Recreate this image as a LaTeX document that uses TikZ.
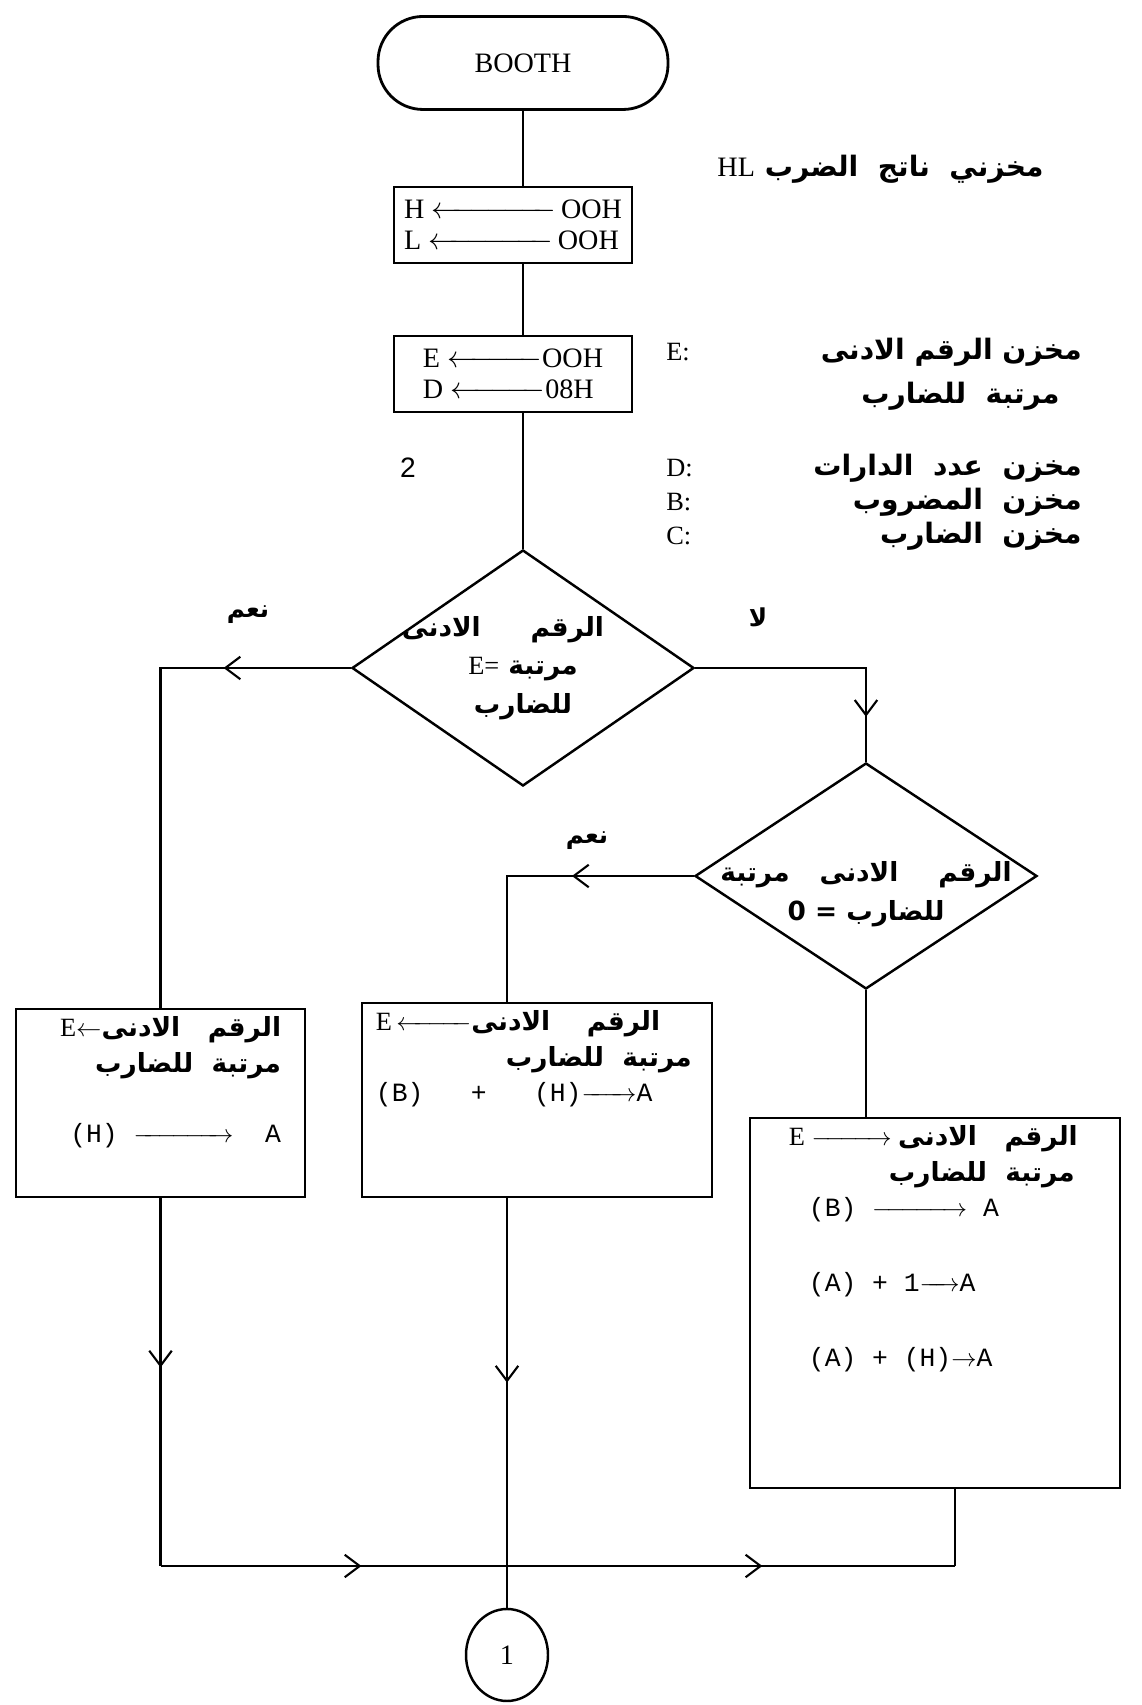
\documentclass[tikz,border=0pt]{standalone}
\usepackage{fontspec}
\setmainfont{Liberation Serif}
\setsansfont{Liberation Sans}
\setmonofont{Liberation Mono}
\newfontfamily\arabicfont[Script=Arabic]{DejaVu Sans}
\TeXXeTstate=1
\usepackage{tikz}
\usetikzlibrary{shapes,arrows.meta,positioning,calc,decorations.markings}

\begin{document}
\begin{tikzpicture}[
    flow/.style={line width=1.2pt},
    terminal/.style={rectangle, draw, line width=1.6pt, rounded corners=0.9cm, minimum width=5.8cm, minimum height=1.86cm, font=\fontsize{16}{19}\selectfont},
    initbox/.style={rectangle, draw, line width=1.6pt, minimum width=4.76cm, minimum height=1.52cm, align=left, inner sep=2pt, font=\fontsize{16}{18}\selectfont},
    decision/.style={diamond, draw, line width=1.4pt, inner sep=0pt},
    dtext/.style={align=center, inner sep=0pt, font=\arabicfont\bfseries\fontsize{15}{22}\selectfont},
    procbox/.style={rectangle, draw, line width=1.6pt},
    boxtext/.style={inner sep=0pt, font=\fontsize{15}{20}\selectfont},
    note/.style={anchor=east, inner sep=0pt, font=\arabicfont\bfseries\fontsize{16}{18}\selectfont},
    reg/.style={anchor=west, inner sep=0pt, font=\fontsize{15}{18}\selectfont},
    answer/.style={inner sep=0pt, font=\arabicfont\bfseries\fontsize{14}{16}\selectfont},
    connector/.style={ellipse, draw, line width=1.4pt, minimum width=1.64cm, minimum height=1.84cm, font=\fontsize{16}{19}\selectfont},
    midarrow/.style={postaction={decorate}, decoration={markings, mark=at position #1 with {\arrow{Straight Barb[length=3mm,width=4.5mm,line width=1.2pt]}}}}
]

\useasboundingbox (0,0) rectangle (22.82,34.1);

% Start and initialisation
\node[terminal] (start) at (10.46,32.84) {BOOTH};
\node[initbox] (init1) at (10.26,29.6) {H \hbox to 2.5cm{\leftarrowfill}\,OOH\\L \hbox to 2.5cm{\leftarrowfill}\,OOH};
\node[initbox] (init2) at (10.26,26.62) {E \hbox to 1.9cm{\leftarrowfill}OOH\\D \hbox to 1.9cm{\leftarrowfill}08H};

% Register notes - right side
\node[note] (hlNote) at (20.88,30.72) {\beginR مخزني\ \ ناتج\ \ الضرب \beginL{\mdseries\rmfamily HL}\endL\endR};
\node[reg] (eReg) at (13.32,27.06) {E:};
\node[note] (eNote1) at (21.64,27.06) {\beginR مخزن\ الرقم\ الادنى\endR};
\node[note] (eNote2) at (21.2,26.18) {\beginR مرتبة\ \ للضارب\endR};
\node[font=\sffamily\fontsize{16}{19}\selectfont] (loopNo) at (8.16,24.74) {2};
\node[reg] (dReg) at (13.32,24.74) {D:};
\node[reg] (bReg) at (13.32,24.06) {B:};
\node[reg] (cReg) at (13.32,23.38) {C:};
\node[note] (dNote) at (21.64,24.74) {\beginR مخزن\ \ عدد\ \ الدارات\endR};
\node[note] (bNote) at (21.64,24.06) {\beginR مخزن\ \ المضروب\endR};
\node[note] (cNote) at (21.64,23.38) {\beginR مخزن\ \ الضارب\endR};

% Decisions
\node[decision, minimum width=6.84cm, minimum height=4.72cm] (test1) at (10.46,20.74) {};
\node[dtext] (test1text) at (test1.center) {\beginR\hspace*{0.8cm}الرقم\hspace{1cm}الادنى\endR\\\beginR مرتبة \beginL{\mdseries\rmfamily E=}\endL\endR\\\beginR للضارب\endR};
\node[decision, minimum width=6.84cm, minimum height=4.52cm] (test2) at (17.32,16.58) {};
\node[dtext] (test2text) at ([yshift=-0.36cm]test2.center) {\beginR الرقم\hspace{0.8cm}الادنى\hspace{0.6cm}مرتبة\endR\\\beginR للضارب \beginL 0 =\endL\endR};
\node[answer] (yes1) at (4.96,21.8) {\beginR نعم\endR};
\node[answer] (no1) at (15.16,21.76) {\beginR لا\endR};
\node[answer] (yes2) at (11.74,17.28) {\beginR نعم\endR};

% Process boxes
\node[procbox, minimum width=5.78cm, minimum height=3.76cm] (boxL) at (3.21,12.04) {};
\node[procbox, minimum width=7.0cm, minimum height=3.88cm] (boxM) at (10.74,12.1) {};
\node[procbox, minimum width=7.4cm, minimum height=7.4cm] (boxR) at (18.7,8.04) {};

\node[boxtext, align=right, below left=0.18cm and 0.5cm of boxL.north east] (boxLtext) {E$\leftarrow${\arabicfont\bfseries\beginR الرقم\ \ \ الادنى\endR}\\{\arabicfont\bfseries\beginR مرتبة\ \ للضارب\endR}\\[0.7cm]{\ttfamily(H) \hbox to 2cm{\rightarrowfill}\ \ A}};
\node[boxtext, align=left, below right=0.18cm and 0.3cm of boxM.north west] (boxMtext) {E\,\hbox to 1.5cm{\leftarrowfill}{\arabicfont\bfseries\beginR الرقم\ \ \ \ الادنى\endR}\\\hspace*{2.6cm}{\arabicfont\bfseries\beginR مرتبة\ \ للضارب\endR}\\{\ttfamily(B)\ \ \ +\ \ \ (H)\hbox to 1.1cm{\rightarrowfill}A}};
\node[boxtext, align=left, below right=0.18cm and 0.8cm of boxR.north west] (boxRtext) {E \hbox to 1.6cm{\rightarrowfill} {\arabicfont\bfseries\beginR الرقم\ \ \ الادنى\endR}\\\hspace*{2cm}{\arabicfont\bfseries\beginR مرتبة\ \ للضارب\endR}\\\hspace*{0.4cm}{\ttfamily(B) \hbox to 1.9cm{\rightarrowfill} A}\\[0.8cm]\hspace*{0.4cm}{\ttfamily(A) + 1\hbox to 0.8cm{\rightarrowfill}A}\\[0.8cm]\hspace*{0.4cm}{\ttfamily(A) + (H)$\rightarrow$A}};

% Exit connector
\node[connector] (conn) at (10.14,1.0) {1};
\coordinate (joinR) at (19.1,2.78);

% Main line
\draw[flow] (start) -- (start |- init1.north);
\draw[flow] (start |- init1.south) -- (start |- init2.north);
\draw[flow] (start |- init2.south) -- (test1.north);

% Branches
\draw[flow, midarrow=0.24] (test1.west) -- (test1.west -| boxL.north) -- (boxL.north);
\draw[flow, midarrow=0.83] (test1.east) -- (test1.east -| test2.north) -- (test2.north);
\draw[flow, midarrow=0.39] (test2.west) -- (test2.west -| conn.north) -- (conn.north |- boxM.north);
\draw[flow] (test2.south) -- (test2.south |- boxR.north);

% Joining lines
\draw[flow, midarrow=0.46] (boxL.south) -- (boxL.south |- joinR);
\draw[flow, midarrow=0.45] (conn.north |- boxM.south) -- (conn.north);
\draw[flow] (joinR |- boxR.south) -- (joinR);
\draw[flow, midarrow=0.58] (boxL.south |- joinR) -- (conn.north |- joinR);
\draw[flow, midarrow=0.57] (conn.north |- joinR) -- (joinR);

\end{tikzpicture}
\end{document}
